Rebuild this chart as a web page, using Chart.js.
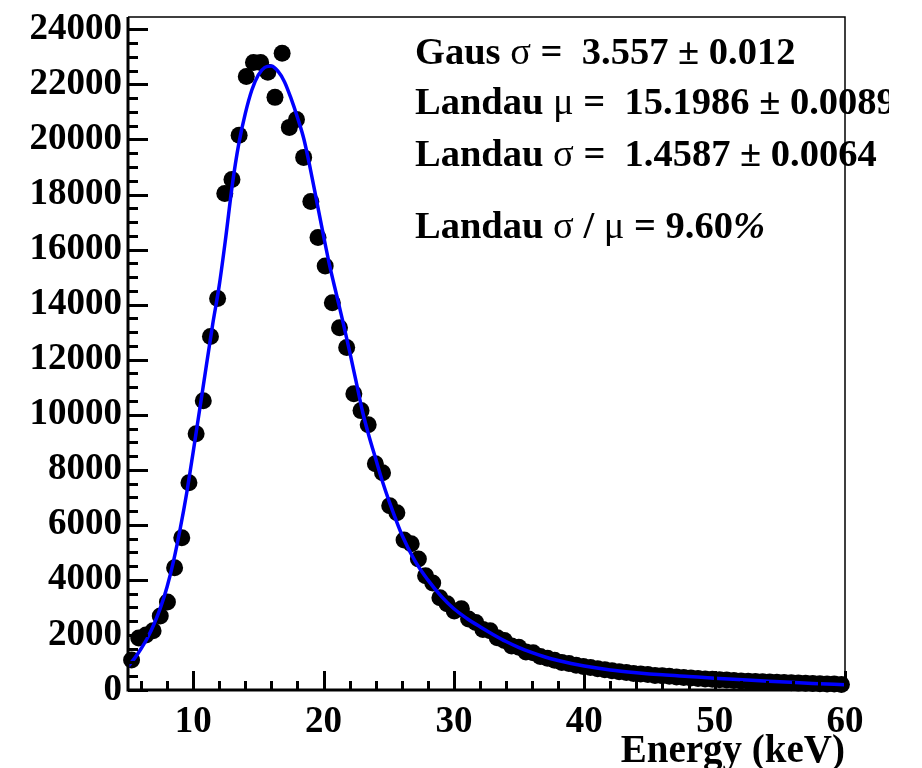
<!DOCTYPE html>
<html>
<head>
<meta charset="utf-8">
<script src="https://cdn.jsdelivr.net/npm/chart.js@4.4.1/dist/chart.umd.min.js"></script>
<style>
  html, body { margin: 0; padding: 0; background: #fff; }
</style>
</head>
<body>
<canvas id="spectrum" width="922" height="768"></canvas>
<script>
// measured spectrum, bin centres (keV) and entries per bin
const energy = [
  5.275, 5.825, 6.375, 6.925, 7.475, 8.025, 8.575, 9.125, 9.675, 10.225,
  10.775, 11.325, 11.875, 12.425, 12.975, 13.525, 14.075, 14.625, 15.175, 15.725,
  16.275, 16.825, 17.375, 17.925, 18.475, 19.025, 19.575, 20.125, 20.675, 21.225,
  21.775, 22.325, 22.875, 23.425, 23.975, 24.525, 25.075, 25.625, 26.175, 26.725,
  27.275, 27.825, 28.375, 28.925, 29.475, 30.025, 30.575, 31.125, 31.675, 32.225,
  32.775, 33.325, 33.875, 34.425, 34.975, 35.525, 36.075, 36.625, 37.175, 37.725,
  38.275, 38.825, 39.375, 39.925, 40.475, 41.025, 41.575, 42.125, 42.675, 43.225,
  43.775, 44.325, 44.875, 45.425, 45.975, 46.525, 47.075, 47.625, 48.175, 48.725,
  49.275, 49.825, 50.375, 50.925, 51.475, 52.025, 52.575, 53.125, 53.675, 54.225,
  54.775, 55.325, 55.875, 56.425, 56.975, 57.525, 58.075, 58.625, 59.175, 59.725
];
const counts = [
  1090, 1890, 2000, 2150, 2690, 3200, 4440, 5530, 7530, 9310,
  10510, 12840, 14220, 18040, 18550, 20150, 22290, 22800, 22800, 22440,
  21530, 23130, 20440, 20730, 19350, 17750, 16440, 15400, 14070, 13160,
  12440, 10760, 10150, 9640, 8220, 7890, 6690, 6440, 5450, 5310,
  4760, 4150, 3890, 3350, 3130, 2870, 2950, 2580, 2450, 2200,
  2150, 1900, 1800, 1600, 1550, 1380, 1350, 1220, 1150, 1080,
  1000, 960, 900, 850, 820, 770, 740, 700, 660, 640,
  600, 580, 560, 530, 520, 500, 470, 450, 440, 420,
  400, 390, 370, 360, 345, 330, 320, 310, 300, 290,
  280, 270, 260, 250, 245, 235, 230, 220, 215, 200
];

// Landau (x) Gaus fit curve
const fitEnergy = [
  5.0, 5.5, 6.0, 6.5, 7.0, 7.5, 8.0, 8.5, 9.0, 9.5,
  10.0, 10.5, 11.0, 11.5, 12.0, 12.5, 13.0, 13.5, 14.0, 14.5,
  15.0, 15.5, 16.0, 16.5, 17.0, 17.5, 18.0, 18.5, 19.0, 19.5,
  20.0, 20.5, 21.0, 21.5, 22.0, 22.5, 23.0, 23.5, 24.0, 24.5,
  25.0, 26.0, 27.0, 28.0, 29.0, 30.0, 31.0, 32.0, 33.0, 34.0,
  35.0, 36.0, 37.0, 38.0, 39.0, 40.0, 42.0, 44.0, 46.0, 48.0,
  50.0, 52.5, 55.0, 57.5, 60.0
];
const fitCounts = [
  850, 1150, 1500, 1900, 2400, 3000, 3750, 4700, 5850, 7150,
  8650, 10200, 11750, 13300, 14700, 16450, 18350, 19850, 20950, 21800,
  22350, 22620, 22670, 22480, 22100, 21500, 20800, 20000, 18900, 17700,
  16500, 15350, 14350, 13350, 12300, 11200, 10100, 9200, 8400, 7600,
  6900, 5650, 4700, 4000, 3420, 2950, 2600, 2300, 2020, 1760,
  1540, 1360, 1200, 1070, 960, 870, 730, 630, 550, 490,
  430, 360, 300, 240, 190
];

const xLabels = [10, 20, 30, 40, 50, 60];
const yLabels = [0, 2000, 4000, 6000, 8000, 10000, 12000, 14000, 16000, 18000, 20000, 22000, 24000];
const xMinorStep = 2;
const yMinorStep = 500;
const xRange = [5, 60];
const yRange = [0, 24450];

// fit results, each line as [text, font key] runs
const fitResults = [
  [['Gaus ', 'b'], ['\u03c3', 'g'], [' =  3.557 \u00b1 0.012', 'b']],
  [['Landau ', 'b'], ['\u03bc', 'g'], [' =  15.1986 \u00b1 0.0089', 'b']],
  [['Landau ', 'b'], ['\u03c3', 'g'], [' =  1.4587 \u00b1 0.0064', 'b']],
  [['Landau ', 'b'], ['\u03c3', 'g'], [' / ', 'b'], ['\u03bc', 'g'], [' = 9.60', 'b'], ['%', 'p']]
];
const fitBaselines = [64, 114, 166, 238];

const SERIF = '"Liberation Serif", "Times New Roman", serif';
const fonts = {
  b: 'bold 38.5px ' + SERIF,
  g: '38.5px ' + SERIF,
  p: 'italic bold 38.5px ' + SERIF
};

// ROOT-like frame: thick left/bottom axes, ticks pointing into the pad
const rootFrame = {
  id: 'rootFrame',
  afterDatasetsDraw(chart) {
    const { ctx, chartArea: a, scales: { x, y } } = chart;

    // fit results, cut at the pad edge
    ctx.save();
    ctx.beginPath();
    ctx.rect(0, 0, 889, chart.height);
    ctx.clip();
    ctx.fillStyle = '#000';
    ctx.textBaseline = 'alphabetic';
    ctx.textAlign = 'left';
    fitResults.forEach((parts, k) => {
      let px = 415;
      parts.forEach(([txt, f]) => {
        ctx.font = fonts[f];
        ctx.fillText(txt, px, fitBaselines[k]);
        px += ctx.measureText(txt).width;
      });
    });
    ctx.restore();

    ctx.save();
    ctx.strokeStyle = '#000';
    ctx.lineCap = 'butt';

    // thin top / right border
    ctx.lineWidth = 1.5;
    ctx.beginPath();
    ctx.moveTo(a.left, a.top);
    ctx.lineTo(a.right, a.top);
    ctx.lineTo(a.right, a.bottom);
    ctx.stroke();

    ctx.lineWidth = 3;
    // y ticks
    for (let v = yRange[0]; v <= yRange[1]; v += yMinorStep) {
      const py = Math.round(y.getPixelForValue(v)) + 0.5;
      const len = yLabels.includes(v) ? 20 : 10;
      ctx.beginPath();
      ctx.moveTo(a.left, py);
      ctx.lineTo(a.left + len, py);
      ctx.stroke();
    }
    // x ticks
    for (let v = 6; v <= xRange[1]; v += xMinorStep) {
      const px = Math.round(x.getPixelForValue(v)) + 0.5;
      const len = xLabels.includes(v) ? 19 : 9;
      ctx.beginPath();
      ctx.moveTo(px, a.bottom);
      ctx.lineTo(px, a.bottom - len);
      ctx.stroke();
    }
    // axis lines
    ctx.beginPath();
    ctx.moveTo(a.left, a.top);
    ctx.lineTo(a.left, a.bottom);
    ctx.lineTo(a.right, a.bottom);
    ctx.stroke();
    ctx.restore();
  }
};

const tickFont = { family: SERIF, size: 37, weight: 'bold', lineHeight: 1 };

new Chart(document.getElementById('spectrum'), {
  data: {
    datasets: [
      {
        type: 'line',
        data: fitEnergy.map((e, i) => ({ x: e, y: fitCounts[i] })),
        borderColor: '#0000ff',
        borderWidth: 3.5,
        pointRadius: 0,
        cubicInterpolationMode: 'monotone',
        fill: false,
        order: 0
      },
      {
        type: 'scatter',
        data: energy.map((e, i) => ({ x: e, y: counts[i] })),
        backgroundColor: '#000',
        pointRadius: 8.5,
        pointBorderWidth: 0,
        clip: false,
        order: 1
      }
    ]
  },
  options: {
    responsive: false,
    animation: false,
    devicePixelRatio: 1,
    layout: { padding: { top: 17, right: 77, left: 0, bottom: 0 } },
    plugins: { legend: { display: false }, tooltip: { enabled: false } },
    scales: {
      x: {
        type: 'linear',
        min: xRange[0],
        max: xRange[1],
        grid: { display: false },
        border: { display: false },
        afterBuildTicks(s) { s.ticks = xLabels.map(v => ({ value: v })); },
        ticks: {
          autoSkip: false,
          maxRotation: 0,
          padding: 6,
          color: '#000',
          font: tickFont,
          callback: v => String(v)
        },
        title: {
          display: true,
          text: 'Energy (keV)',
          align: 'end',
          color: '#000',
          padding: { top: 0, bottom: -3 },
          font: { family: SERIF, size: 39, weight: 'bold', lineHeight: 1 }
        },
        afterFit(s) { s.height = 78; s.paddingLeft = 0; s.paddingRight = 0; }
      },
      y: {
        type: 'linear',
        min: yRange[0],
        max: yRange[1],
        grid: { display: false, drawTicks: false },
        border: { display: false },
        afterBuildTicks(s) { s.ticks = yLabels.map(v => ({ value: v })); },
        ticks: {
          autoSkip: false,
          padding: 6,
          color: '#000',
          font: tickFont,
          callback: v => String(v)
        },
        afterFit(s) { s.width = 128; s.paddingTop = 0; s.paddingBottom = 0; }
      }
    }
  },
  plugins: [rootFrame]
});
</script>
</body>
</html>
